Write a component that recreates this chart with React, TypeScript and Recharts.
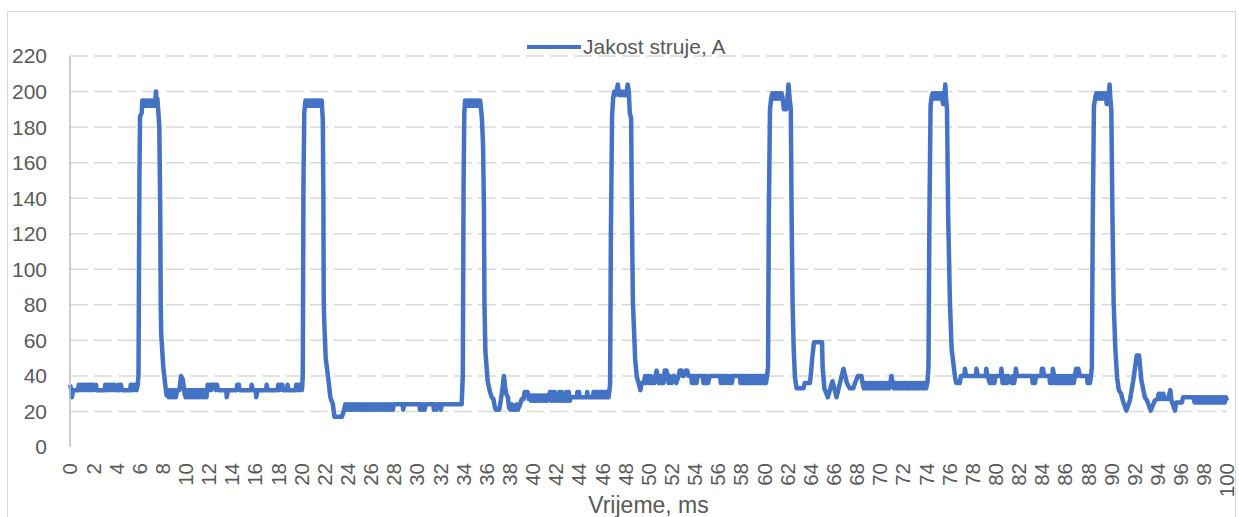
import { CartesianGrid, Label, Legend, Line, LineChart, XAxis, YAxis } from "recharts";

// [time ms, current A], segment by segment
const base0 = [
  [0, 35], [0.08, 33], [0.17, 28], [0.27, 32], [0.7, 32], [0.75, 35], [0.85, 32], [0.95, 35], [1.05, 32], [1.15, 35],
  [1.25, 32], [1.35, 35], [1.45, 32], [1.55, 35], [1.65, 32], [1.75, 35], [1.85, 32], [1.95, 35], [2.05, 32], [2.25, 35],
  [2.3, 32], [3.0, 32], [3.05, 35], [3.15, 32], [3.25, 35], [3.35, 32], [3.45, 35], [3.55, 32], [3.65, 35], [3.75, 32],
  [3.85, 35], [3.95, 32], [4.15, 32], [4.2, 35], [4.3, 32], [4.4, 35], [4.5, 32], [5.2, 32], [5.25, 35], [5.35, 32],
  [5.45, 35], [5.55, 32], [5.65, 35], [5.75, 32], [5.85, 35]
];
const pulse1 = [
  [5.92, 40], [6.0, 150], [6.05, 186], [6.2, 188], [6.25, 195], [6.3, 192], [6.4, 195], [6.5, 192], [6.6, 195], [6.7, 192],
  [6.8, 195], [6.9, 192], [7.0, 195], [7.1, 192], [7.2, 195], [7.3, 192], [7.38, 195], [7.43, 200], [7.48, 195], [7.55, 196],
  [7.62, 190], [7.72, 180], [7.8, 133], [7.84, 82], [7.88, 64], [8.06, 45], [8.25, 34]
];
const base1 = [
  [8.35, 29], [8.45, 32], [8.55, 28], [8.65, 32], [8.75, 28], [8.85, 32], [8.95, 28], [9.05, 32], [9.15, 28], [9.25, 32],
  [9.45, 32], [9.6, 40], [9.75, 38], [9.9, 30], [10.0, 28], [10.1, 32], [10.2, 28], [10.3, 32], [10.4, 28], [10.5, 32],
  [10.6, 28], [10.7, 32], [10.8, 28], [10.9, 32], [11.0, 28], [11.1, 32], [11.2, 28], [11.3, 32], [11.4, 28], [11.5, 32],
  [11.6, 28], [11.7, 32], [11.8, 28], [11.9, 35], [12.0, 32], [12.1, 35], [12.2, 32], [12.3, 35], [12.55, 35], [12.6, 32],
  [12.7, 35], [12.8, 32], [13.5, 32], [13.55, 28], [13.65, 32], [14.4, 32], [14.45, 35], [14.6, 35], [14.65, 32], [15.65, 32],
  [15.7, 35], [15.8, 32], [16.05, 32], [16.1, 28], [16.2, 32], [16.95, 32], [17.0, 35], [17.1, 32], [17.95, 32], [18.0, 35],
  [18.1, 32], [18.2, 35], [18.35, 35], [18.4, 32], [18.75, 32], [18.8, 35], [18.9, 32], [19.5, 32], [19.55, 35], [19.65, 32],
  [19.75, 35], [19.85, 32], [19.95, 35], [20.05, 32]
];
const pulse2 = [
  [20.12, 40], [20.18, 150], [20.25, 188], [20.35, 195], [20.45, 192], [20.55, 195], [20.65, 192], [20.75, 195], [20.85, 192],
  [20.95, 195], [21.05, 192], [21.15, 195], [21.25, 192], [21.35, 195], [21.45, 192], [21.55, 195], [21.65, 192], [21.75, 195],
  [21.85, 184], [21.9, 140], [21.93, 82], [21.98, 70], [22.1, 50], [22.2, 45], [22.35, 37], [22.5, 28], [22.72, 24],
  [22.85, 17], [23.5, 17], [23.65, 20]
];
const base2 = [
  [23.8, 24], [23.9, 21], [24.0, 24], [24.1, 21], [24.2, 24], [24.3, 21], [24.4, 24], [24.5, 21], [24.6, 24], [24.7, 21],
  [24.8, 24], [24.9, 21], [25.0, 24], [25.1, 21], [25.2, 24], [25.3, 21], [25.4, 24], [25.5, 21], [25.6, 24], [25.7, 21],
  [25.8, 24], [25.9, 21], [26.0, 24], [26.1, 21], [26.2, 24], [26.3, 21], [26.4, 24], [26.5, 21], [26.6, 24], [26.7, 21],
  [26.8, 24], [26.9, 21], [27.0, 24], [27.1, 21], [27.2, 24], [27.3, 21], [27.4, 24], [27.5, 21], [27.6, 24], [27.7, 21],
  [27.8, 24], [27.9, 21], [28.0, 24], [28.75, 24], [28.8, 21], [28.9, 24], [30.2, 24], [30.25, 21], [30.35, 24], [30.45, 21],
  [30.55, 24], [30.65, 21], [30.75, 24], [31.4, 24], [31.45, 21], [31.55, 24], [31.65, 21], [31.75, 24], [32.0, 24],
  [32.05, 21], [32.15, 24], [33.85, 24]
];
const pulse3 = [
  [33.95, 40], [34.02, 150], [34.08, 188], [34.15, 195], [34.25, 192], [34.35, 195], [34.45, 192], [34.55, 195], [34.65, 192],
  [34.75, 195], [34.85, 192], [34.95, 195], [35.05, 192], [35.15, 195], [35.25, 192], [35.35, 195], [35.45, 195], [35.6, 185],
  [35.7, 170], [35.78, 133], [35.82, 82], [35.9, 54], [36.1, 37], [36.3, 31]
];
const base3 = [
  [36.45, 28], [36.6, 27], [36.7, 23], [36.8, 21], [37.1, 21], [37.25, 27], [37.4, 34], [37.5, 40], [37.6, 34], [37.7, 30],
  [37.85, 28], [37.95, 22], [38.1, 21], [38.2, 24], [38.3, 21], [38.5, 21], [38.6, 24], [38.7, 21], [38.85, 23], [38.95, 25],
  [39.05, 27], [39.2, 27], [39.3, 31], [39.55, 31], [39.65, 27], [39.75, 29], [39.85, 26], [39.95, 29], [40.05, 26],
  [40.15, 29], [40.25, 26], [40.35, 29], [40.45, 26], [40.55, 29], [40.65, 26], [40.75, 29], [40.85, 26], [40.95, 29],
  [41.05, 26], [41.15, 29], [41.25, 26], [41.35, 29], [41.5, 31], [41.6, 26], [41.7, 31], [41.8, 26], [41.9, 31], [42.0, 26],
  [42.1, 29], [42.2, 26], [42.3, 31], [42.4, 26], [42.5, 31], [42.6, 26], [42.7, 29], [42.8, 26], [42.9, 31], [43.0, 26],
  [43.1, 31], [43.2, 26], [43.3, 28], [43.8, 28], [43.85, 31], [44.0, 31], [44.05, 28], [44.65, 28], [44.7, 31], [44.8, 28],
  [45.2, 28], [45.25, 31], [45.35, 28], [45.45, 31], [45.55, 28], [45.65, 31], [45.75, 28], [45.85, 31], [45.95, 28],
  [46.05, 31], [46.15, 28], [46.25, 31], [46.35, 28], [46.45, 31], [46.55, 28]
];
const pulse4 = [
  [46.68, 35], [46.75, 120], [46.85, 186], [46.95, 197], [47.05, 200], [47.15, 198], [47.25, 200], [47.35, 204], [47.42, 200],
  [47.5, 198], [47.6, 200], [47.7, 198], [47.8, 200], [47.9, 198], [48.0, 200], [48.1, 198], [48.2, 204], [48.3, 200],
  [48.38, 188], [48.5, 185], [48.55, 140], [48.65, 82], [48.85, 49], [49.0, 39], [49.15, 36]
];
const base4 = [
  [49.3, 32], [49.4, 36], [49.6, 36], [49.7, 40], [49.8, 36], [49.9, 40], [50.0, 40], [50.1, 36], [50.2, 40], [50.3, 36],
  [50.5, 36], [50.6, 40], [50.7, 43], [50.8, 40], [50.9, 36], [51.0, 40], [51.1, 36], [51.2, 40], [51.3, 36], [51.4, 43],
  [51.55, 43], [51.65, 40], [51.75, 36], [51.85, 40], [52.0, 36], [52.2, 40], [52.4, 36], [52.6, 40], [52.7, 43], [52.85, 43],
  [52.95, 40], [53.05, 40], [53.2, 43], [53.35, 43], [53.45, 40], [53.7, 40], [53.75, 36], [53.85, 40], [53.95, 36],
  [54.05, 40], [54.15, 36], [54.25, 40], [54.7, 40], [54.75, 36], [54.85, 40], [54.95, 36], [55.05, 40], [55.15, 36],
  [55.3, 40], [56.2, 40], [56.25, 36], [56.35, 40], [56.45, 36], [56.55, 40], [56.7, 40], [56.75, 36], [56.85, 40],
  [57.0, 36], [57.1, 40], [57.2, 36], [57.3, 40], [57.9, 40], [57.95, 36], [58.05, 40], [58.15, 36], [58.25, 40], [58.35, 36],
  [58.45, 40], [58.55, 36], [58.65, 40], [58.75, 36], [58.85, 40], [58.95, 36], [59.05, 40], [59.15, 36], [59.25, 40],
  [59.35, 36], [59.45, 40], [59.55, 36], [59.65, 40], [59.75, 36], [59.85, 40], [59.95, 36], [60.05, 40], [60.15, 36],
  [60.25, 40]
];
const pulse5 = [
  [60.33, 45], [60.4, 130], [60.5, 190], [60.6, 196], [60.7, 199], [60.8, 196], [60.9, 199], [61.0, 196], [61.1, 199],
  [61.2, 196], [61.3, 199], [61.4, 196], [61.5, 199], [61.6, 196], [61.7, 190], [61.9, 190], [62.0, 196], [62.1, 204],
  [62.2, 196], [62.3, 190], [62.37, 130], [62.45, 82], [62.55, 55], [62.66, 39]
];
const base5 = [
  [62.8, 33], [63.4, 33], [63.5, 36], [63.95, 36], [64.05, 42], [64.15, 50], [64.3, 59], [65.0, 59], [65.05, 45], [65.2, 33],
  [65.5, 28], [65.9, 37], [66.25, 28], [66.55, 36], [66.85, 44], [67.15, 36], [67.4, 33], [67.7, 33], [67.85, 36], [68.1, 40],
  [68.4, 40], [68.5, 36], [68.6, 33], [68.7, 36], [68.8, 33], [68.9, 36], [69.0, 33], [69.1, 36], [69.2, 33], [69.3, 36],
  [69.4, 33], [69.5, 36], [69.6, 33], [69.7, 36], [69.8, 33], [69.9, 36], [70.0, 33], [70.1, 36], [70.2, 33], [70.3, 36],
  [70.4, 33], [70.5, 36], [70.6, 33], [70.7, 36], [70.8, 33], [70.9, 36], [71.0, 40], [71.1, 36], [71.2, 33], [71.3, 36],
  [71.4, 33], [71.5, 36], [71.6, 33], [71.7, 36], [71.8, 33], [71.9, 36], [72.0, 33], [72.1, 36], [72.2, 33], [72.3, 36],
  [72.4, 33], [72.5, 36], [72.6, 33], [72.7, 36], [72.8, 33], [72.9, 36], [73.0, 33], [73.1, 36], [73.2, 33], [73.3, 36],
  [73.4, 33], [73.5, 36], [73.6, 33], [73.7, 36], [73.8, 33], [73.9, 36], [74.0, 33], [74.1, 36]
];
const pulse6 = [
  [74.2, 45], [74.28, 130], [74.38, 192], [74.45, 196], [74.55, 199], [74.65, 196], [74.75, 199], [74.85, 196], [74.95, 199],
  [75.05, 196], [75.15, 199], [75.25, 196], [75.35, 199], [75.45, 193], [75.55, 193], [75.65, 204], [75.72, 196],
  [75.8, 190], [75.9, 130], [76.05, 82], [76.2, 55], [76.5, 39]
];
const base6 = [
  [76.6, 36], [76.9, 36], [77.0, 40], [77.3, 40], [77.35, 44], [77.45, 40], [78.3, 40], [78.35, 44], [78.45, 40], [79.15, 40],
  [79.2, 44], [79.3, 40], [79.5, 36], [79.6, 40], [79.7, 36], [79.8, 40], [79.9, 36], [80.0, 40], [80.45, 40], [80.5, 44],
  [80.6, 36], [80.7, 40], [80.8, 36], [80.9, 40], [81.0, 36], [81.1, 40], [81.4, 36], [81.5, 40], [81.6, 36], [81.7, 40],
  [81.75, 44], [81.85, 40], [83.15, 40], [83.2, 36], [83.3, 40], [83.4, 36], [83.5, 40], [83.95, 40], [84.0, 44], [84.1, 44],
  [84.2, 40], [84.65, 40], [84.7, 36], [84.8, 40], [84.9, 36], [84.95, 44], [85.05, 40], [85.15, 36], [85.25, 40],
  [85.35, 36], [85.45, 40], [85.55, 36], [85.65, 40], [85.75, 36], [85.85, 40], [85.95, 36], [86.05, 40], [86.15, 36],
  [86.25, 40], [86.35, 36], [86.45, 40], [86.55, 36], [86.65, 40], [86.75, 36], [86.85, 40], [86.95, 44], [87.05, 40],
  [87.15, 44], [87.3, 40], [87.9, 40], [87.95, 36], [88.05, 40], [88.15, 36], [88.25, 40]
];
const pulse7 = [
  [88.32, 45], [88.4, 130], [88.5, 192], [88.6, 196], [88.7, 199], [88.8, 196], [88.9, 199], [89.0, 196], [89.1, 199],
  [89.2, 196], [89.3, 199], [89.4, 196], [89.5, 199], [89.6, 193], [89.75, 193], [89.85, 204], [89.92, 196], [90.0, 190],
  [90.1, 130], [90.2, 82], [90.35, 55], [90.5, 39]
];
const base7 = [
  [90.65, 32], [90.85, 30], [91.0, 26], [91.3, 20.5], [91.6, 26], [91.9, 37.5], [92.2, 51.5], [92.4, 51.5], [92.6, 37.5],
  [92.9, 28], [93.1, 26], [93.4, 20.5], [93.75, 26], [94.0, 27], [94.1, 30], [94.2, 27], [94.3, 30], [94.4, 27], [94.5, 30],
  [94.6, 27], [94.9, 27], [95.1, 32], [95.2, 26], [95.5, 20.5], [95.6, 25], [96.1, 25], [96.2, 28], [97.1, 28], [97.2, 25],
  [97.3, 28], [97.4, 25], [97.5, 28], [97.6, 25], [97.7, 28], [97.8, 25], [97.9, 28], [98.0, 25], [98.1, 28], [98.2, 25],
  [98.3, 28], [98.4, 25], [98.5, 28], [98.6, 25], [98.7, 28], [98.8, 25], [98.9, 28], [99.0, 25], [99.1, 28], [99.2, 25],
  [99.3, 28], [99.4, 25], [99.5, 28], [99.6, 25], [99.7, 28], [99.8, 25], [99.9, 28], [100, 26]
];

const xTicks = [
  0, 2, 4, 6, 8, 10, 12, 14, 16, 18, 20, 22, 24, 26, 28, 30, 32, 34, 36, 38, 40, 42, 44, 46, 48, 50,
  52, 54, 56, 58, 60, 62, 64, 66, 68, 70, 72, 74, 76, 78, 80, 82, 84, 86, 88, 90, 92, 94, 96, 98, 100
];
const yTicks = [0, 20, 40, 60, 80, 100, 120, 140, 160, 180, 200, 220];
const gridValues = [20, 40, 60, 80, 100, 120, 140, 160, 180, 200, 220];
const Y_MAX = 220;

const segments = [base0, pulse1, base1, pulse2, base2, pulse3, base3, pulse4, base4, pulse5, base5, pulse6, base6, pulse7, base7];
const data = segments.flat().map(([t, a]) => ({ t, a }));

const FONT = "'Liberation Sans', Arial, sans-serif";
const TEXT = "#595959";
const BLUE = "#4472C4";

function RotatedTick(props: any) {
  const { x, y, payload } = props;
  const ty = y + 8;
  return (
    <text x={x} y={ty} transform={`rotate(-90, ${x}, ${ty})`} textAnchor="end" dy="0.36em"
      fill={TEXT} fontSize={20.5} fontFamily={FONT}>
      {payload.value}
    </text>
  );
}

function LegendBox(props: any) {
  const item = props.payload?.[0];
  return (
    <div style={{ display: "flex", alignItems: "center", fontFamily: FONT, fontSize: 21, color: TEXT, whiteSpace: "nowrap" }}>
      <span style={{ display: "inline-block", width: 54, height: 4, background: BLUE }} />
      <span style={{ marginLeft: 2 }}>{item ? item.value : "Jakost struje, A"}</span>
    </div>
  );
}

// grid rows for every y tick except 0 (no line on the category axis)
function gridRows(p: any) {
  const s = p?.yAxis?.scale;
  const off = p?.offset;
  return gridValues.map((v) => {
    if (typeof s === "function") return s(v);
    if (s && typeof s.map === "function") return s.map(v);
    return off.top + off.height * (1 - v / Y_MAX);
  });
}

export default function App() {
  return (
    <div style={{ position: "absolute", left: 0, top: 0, width: 1239, height: 517, background: "#fff", overflow: "hidden" }}>
      <div style={{ position: "absolute", left: 7, top: 11, width: 1229, height: 520, border: "1px solid #d9d9d9", boxSizing: "border-box" }} />
      <LineChart width={1239} height={517} data={data} margin={{ top: 56, right: 12, bottom: 0, left: 0 }} style={{ position: "absolute", left: 0, top: 0 }}>
        <CartesianGrid
          vertical={false}
          stroke="#d9d9d9"
          strokeWidth={1.5}
          strokeDasharray="18 6"
          horizontalCoordinatesGenerator={gridRows}
        />
        <XAxis
          type="number"
          dataKey="t"
          domain={[0, 100]}
          ticks={xTicks}
          interval={0}
          height={70}
          axisLine={false}
          tickLine={false}
          tick={RotatedTick}
        >
          <Label value="Vrijeme, ms" position="insideBottom" offset={4} fill={TEXT} fontSize={23} fontFamily={FONT} />
        </XAxis>
        <YAxis
          type="number"
          domain={[0, Y_MAX]}
          ticks={yTicks}
          interval={0}
          width={70}
          tickLine={false}
          tickMargin={17}
          axisLine={{ stroke: "#bfbfbf", strokeWidth: 1.5 }}
          tick={{ fill: TEXT, fontSize: 21, fontFamily: FONT }}
        />
        <Legend
          layout="vertical"
          align="center"
          verticalAlign="middle"
          wrapperStyle={{ left: 527, top: 35, width: "auto", height: "auto" }}
          content={LegendBox}
        />
        <Line
          type="linear"
          dataKey="a"
          name="Jakost struje, A"
          stroke={BLUE}
          strokeWidth={4.5}
          strokeLinejoin="round"
          dot={false}
          activeDot={false}
          isAnimationActive={false}
        />
      </LineChart>
    </div>
  );
}
